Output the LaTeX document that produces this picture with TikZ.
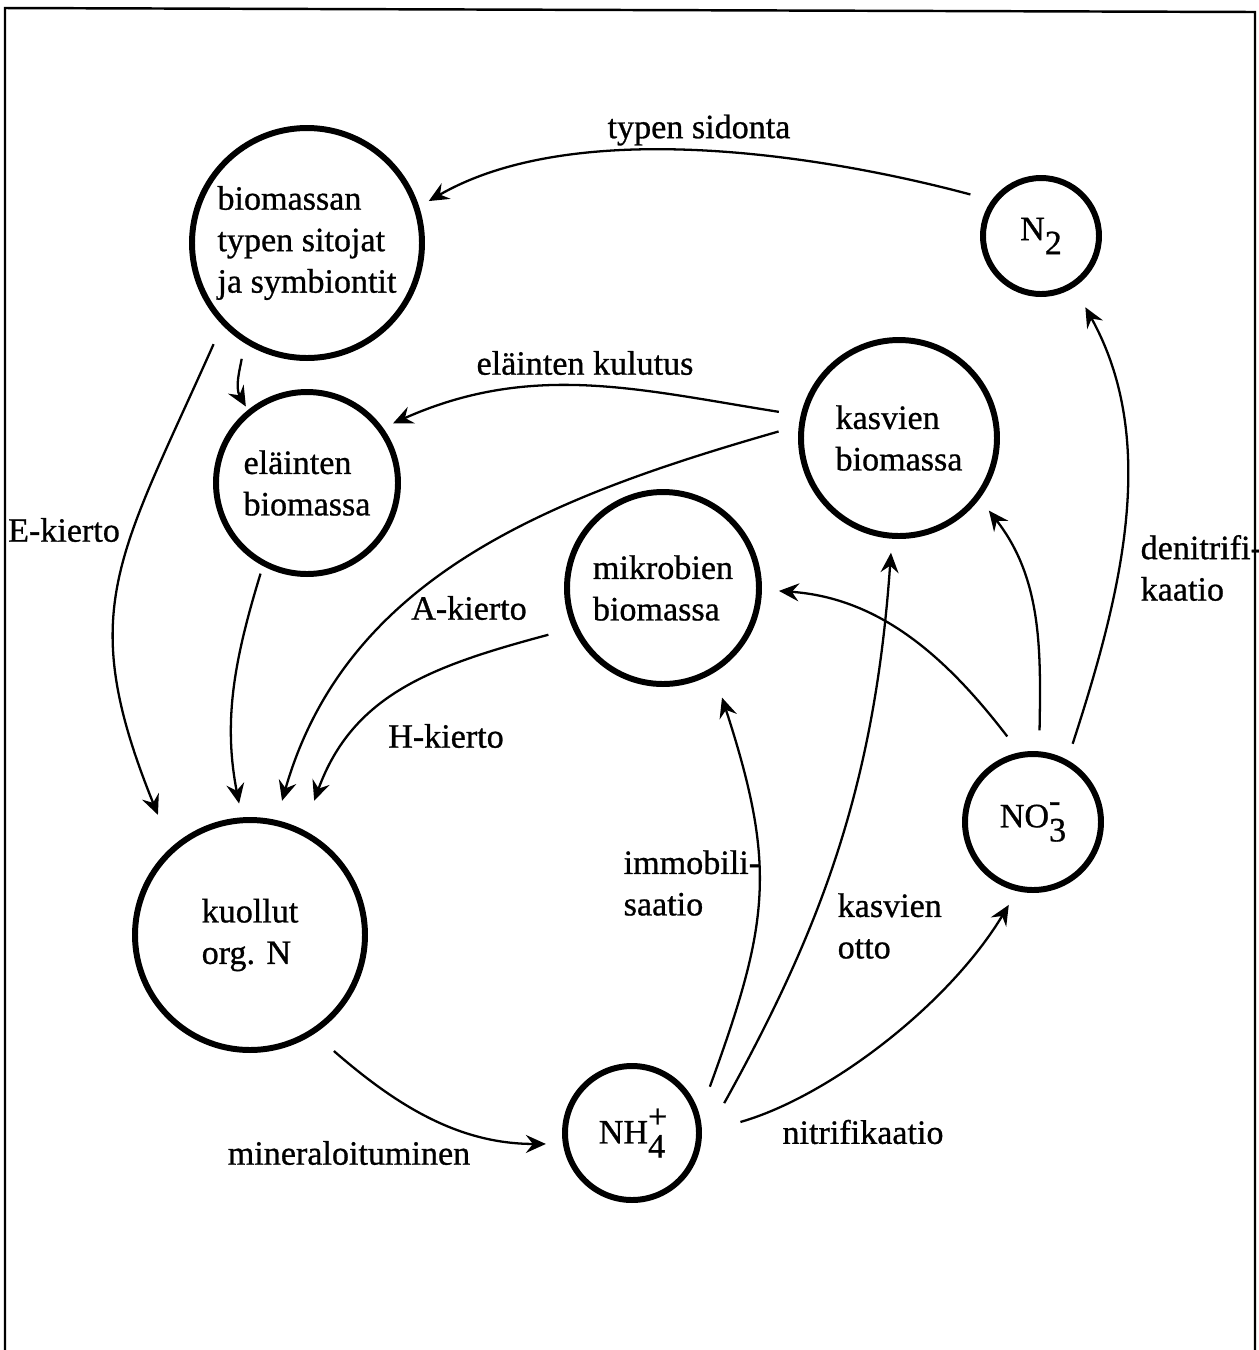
\documentclass[tikz,border=0pt]{standalone}
\usepackage{fontspec}
\setmainfont{Liberation Serif}[FakeBold=0.8]
\usetikzlibrary{arrows.meta}
\newcommand{\lbl}{\fontsize{9.7}{11.8}\selectfont}
\newcommand{\ionchem}[3]{#1\rlap{\raisebox{1.0ex}{#2}}\raisebox{-0.9ex}{#3}}

\begin{document}
\begin{tikzpicture}[
  pool/.style={circle,draw,line width=1.7pt,inner sep=0pt,align=left,font=\lbl},
  flow/.style={line width=0.65pt,-{Stealth[length=2mm,width=1.8mm,inset=0.7mm]}},
  tag/.style={inner sep=0pt,align=left,font=\lbl}]
\useasboundingbox (0,0) rectangle (12.59,-13.5);
\draw[line width=0.7pt] (0.05,-13.5) -- (0.05,-0.08) -- (12.55,-0.12) -- (12.55,-13.5);
\node[pool,minimum size=2.30cm] (bio) at (3.07,-2.43) {biomassan\\typen sitojat\\ja symbiontit};
\node[pool,minimum size=1.16cm] (n2) at (10.41,-2.36) {\ionchem{N}{}{2}};
\node[pool,minimum size=1.82cm] (ela) at (3.07,-4.83) {eläinten\\biomassa};
\node[pool,minimum size=1.96cm] (kas) at (8.99,-4.38) {kasvien\\biomassa};
\node[pool,minimum size=1.92cm] (mik) at (6.63,-5.88) {mikrobien\\biomassa};
\node[pool,minimum size=1.36cm] (no3) at (10.33,-8.22) {\ionchem{NO}{-}{3}};
\node[pool,minimum size=2.30cm] (kuo) at (2.50,-9.35) {kuollut\\org. N};
\node[pool,minimum size=1.34cm] (nh4) at (6.32,-11.33) {\ionchem{NH}{+}{4}};
\draw[flow,shorten <=2.2mm,shorten >=1.1mm] (n2.144) to[out=165,in=30,looseness=0.8] (bio.18);
\draw[flow,shorten <=1.6mm,shorten >=0.4mm] (bio.238) to[out=-100,in=120] (ela.129);
\draw[flow,shorten <=2.1mm,shorten >=3.5mm] (bio.224) to[out=246,in=112,looseness=1.25] (kuo.132);
\draw[flow,shorten <=2.2mm,shorten >=1.1mm] (kas.167) to[out=171,in=24] (ela.36);
\draw[flow,shorten <=2.1mm,shorten >=2mm] (kas.173) to[out=196,in=74] (kuo.77);
\draw[flow,shorten <=0.8mm,shorten >=1.4mm] (ela.242) to[out=253,in=101] (kuo.94);
\draw[flow,shorten <=2.5mm,shorten >=3.1mm] (mik.204) to[out=195,in=70,looseness=1.1] (kuo.63);
\draw[flow,shorten <=2.6mm,shorten >=1.7mm] (kuo.-57) to[out=-41,in=180] (nh4.189);
\draw[flow,shorten <=3mm,shorten >=2.6mm] (nh4.15) to[out=70,in=-72,looseness=1.18] (mik.-59);
\draw[flow,shorten <=4.8mm,shorten >=1.4mm] (nh4.-10) to[out=61,in=266] (kas.266);
\draw[flow,shorten <=4mm,shorten >=1.6mm] (nh4.0) to[out=16,in=239,looseness=0.85] (no3.257);
\draw[flow,shorten <=2mm,shorten >=1.7mm] (no3.101) to[out=127.5,in=-4] (mik.-1);
\draw[flow,shorten <=2.1mm,shorten >=1.5mm] (no3.85) to[out=89,in=-52] (kas.-37);
\draw[flow,shorten <=1.7mm,shorten >=2.3mm] (no3.61) to[out=72,in=-61,looseness=0.95] (n2.-57);
\node[tag] (tsid) at (6.99,-1.30) {typen sidonta};
\node[tag] (ekul) at (5.85,-3.63) {eläinten kulutus};
\node[tag] (ekie) at (0.64,-5.30) {E-kierto};
\node[tag] (akie) at (4.69,-6.08) {A-kierto};
\node[tag] (hkie) at (4.46,-7.36) {H-kierto};
\node[tag] (mine) at (3.49,-11.53) {mineraloituminen};
\node[tag,anchor=west] (immo) at (6.23,-8.83) {immobili-\\saatio};
\node[tag,anchor=west] (otto) at (8.37,-9.26) {kasvien\\otto};
\node[tag] (nitr) at (8.63,-11.32) {nitrifikaatio};
\node[tag,anchor=west] (deni) at (11.40,-5.68) {denitrifi-\\kaatio};
\end{tikzpicture}
\end{document}
